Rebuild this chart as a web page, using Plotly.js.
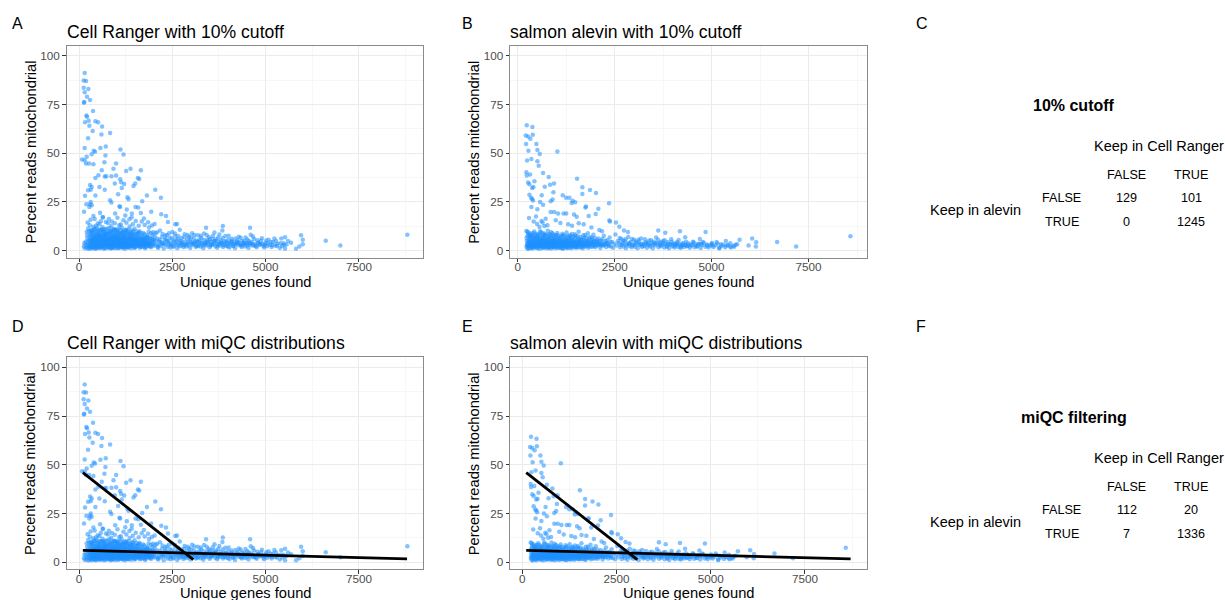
<!DOCTYPE html>
<html>
<head>
<meta charset="utf-8">
<script src="https://cdn.plot.ly/plotly-3.0.1.min.js"></script>
<style>html,body{margin:0;padding:0;background:#fff;}#chart{width:1225px;height:600px;}</style>
</head>
<body>
<div id="chart"></div>
<script>
// ---------------- DATA ----------------
// Cell Ranger: [unique genes found, percent reads mitochondrial]
const crPoints = [
[152,91.1],[125,87.2],[188,87],[125,83.6],[251,82.9],[152,81.2],[215,78.9],[140,76.2],[130,75.8],[296,77.2],
[376,71.6],[197,69.3],[215,68.7],[161,65.8],[260,66.6],[439,66.4],[511,65.8],[278,64],[618,63.7],[367,61.3],
[833,60.4],[600,59.6],[242,57.7],[152,52.7],[1111,51.9],[717,53.4],[573,52.6],[1192,49.3],[394,51.2],[340,49.5],
[430,50.7],[81,46.7],[152,46.4],[206,48.1],[269,44.7],[188,44.7],[385,44.3],[681,45.4],[708,48.8],[923,42],
[994,44.7],[1380,42],[1263,40.8],[1657,41.3],[609,41.3],[520,38.7],[690,38],[730,38.1],[439,37.3],[869,38.2],
[994,38.5],[1129,35.1],[1102,36.6],[1577,37.3],[1612,36.8],[959,34.4],[1210,34.2],[1147,32.2],[1460,33.2],[1505,34.4],
[547,32.7],[690,31.3],[340,32.7],[314,31.3],[296,33.7],[1048,28.9],[242,31],[161,28.1],[439,28.3],[1819,28.3],
[2043,31.2],[2195,27.2],[833,25.9],[869,24.7],[1299,27.4],[1326,26.4],[314,25],[296,23.8],[340,23.3],[278,22.4],
[1102,22.4],[1514,22.4],[1586,22.1],[1693,25.3],[1416,19],[197,23.8],[134,19.9],[1935,19.9],[2204,18.7],[2330,17.8],
[1281,21.1],[968,19],[1084,22.8],[1657,19.3],[2025,13.7],[2383,14.7],[2580,13.5],[2625,13.7],[3405,11.8],[3853,12.7],
[3841,10.4],[4583,11.8],[4601,8.2],[5521,6.9],[5950,7.9],[5995,5.6],[5995,3.3],[5904,2.1],[5816,1.0],[5682,4.1],
[5521,1.0],[5480,3.8],[6611,5.1],[7003,2.6],[8798,8.2],[5235,6.3],[5400,3.8],
[230,14.4],[310,15.8],[420,16.3],[500,13.9],[585,15.1],[640,17.0],[720,14.7],[800,16.2],[880,15.0],[960,14.1],
[1030,16.9],[1120,13.4],[1190,15.6],[1270,14.3],[1350,16.1],[1440,13.6],[1520,15.2],[1600,12.8],[1680,14.9],[1760,13.2],
[1850,14.6],[1950,12.9],[385,17.8],[564,19.5],[636,17.3],[290,13.1],[455,12.7],[1240,18.0],[1410,17.2],[1740,16.5],
[130,2.1],[145,3.8],[160,1.2],[175,4.6],[190,2.8],[205,9.6],[210,1.5],[225,6.2],[235,3.1],[245,11.4],
[255,0.9],[260,5.4],[270,2.3],[280,8.1],[290,3.9],[300,1.4],[305,6.8],[315,10.2],[320,2.6],[330,4.4],
[340,7.5],[345,1.1],[355,3.3],[360,5.9],[370,9.1],[375,2.0],[385,12.3],[390,4.8],[400,1.6],[405,7.0],
[415,3.5],[420,5.2],[430,10.8],[435,2.4],[445,6.5],[450,1.0],[460,8.6],[465,3.9],[475,4.9],[480,11.6],
[490,2.2],[495,6.1],[505,1.4],[510,9.4],[520,3.6],[525,7.8],[535,5.0],[540,2.7],[550,13.5],[555,4.2],
[565,1.2],[570,8.9],[580,6.4],[585,3.0],[595,10.6],[600,5.5],[610,1.8],[615,7.2],[625,3.8],[630,12.0],
[640,4.6],[645,2.1],[655,9.8],[660,6.0],[670,1.5],[675,3.4],[685,8.2],[690,5.1],[700,2.6],[705,11.1],
[715,4.0],[720,7.4],[730,1.3],[735,6.7],[745,3.2],[750,9.0],[760,5.6],[765,2.0],[775,14.2],[780,4.4],
[790,7.9],[795,1.7],[805,3.6],[810,10.1],[820,5.8],[825,2.5],[835,8.4],[840,4.1],[850,1.1],[855,6.3],
[865,12.6],[870,3.0],[880,7.0],[885,5.0],[895,2.3],[900,9.3],[910,4.7],[915,1.6],[925,6.9],[930,3.5],
[940,11.0],[945,5.3],[955,2.0],[960,8.0],[970,4.2],[975,1.2],[985,6.6],[990,3.1],[1000,10.4],[1010,5.7],
[1015,2.6],[1025,7.6],[1030,4.0],[1040,1.5],[1045,9.2],[1055,3.4],[1060,6.1],[1070,2.2],[1080,13.0],[1085,4.9],
[1095,7.3],[1100,1.8],[1110,3.8],[1120,5.5],[1125,8.8],[1135,2.5],[1140,4.5],[1150,11.7],[1160,6.2],[1165,1.4],
[1175,3.3],[1185,7.7],[1190,5.0],[1200,2.1],[1210,9.5],[1220,4.3],[1230,1.0],[1240,6.8],[1250,3.0],[1260,10.6],
[1270,5.2],[1280,2.4],[1290,7.1],[1300,4.1],[1310,1.6],[1320,8.3],[1330,3.6],[1345,5.9],[1355,12.4],[1365,2.8],
[1375,6.5],[1390,4.4],[1400,1.3],[1410,9.0],[1425,3.2],[1435,5.6],[1450,7.6],[1460,2.3],[1475,4.8],[1490,11.3],
[1500,6.0],[1515,1.9],[1530,3.7],[1545,8.5],[1555,5.1],[1570,2.6],[1585,6.9],[1600,4.0],[1615,10.0],[1630,1.5],
[1645,5.4],[1660,3.1],[1675,7.4],[1690,4.6],[1705,2.0],[1720,9.1],[1740,5.8],[1755,3.5],[1770,1.2],[1790,6.6],
[1805,4.2],[1820,8.0],[1840,2.7],[1855,5.0],[1875,11.9],[1890,3.9],[1910,6.3],[1930,1.7],[1950,4.5],[1970,7.8],
[1990,3.0],[2010,5.6],
[320,4.9],[350,2.2],[380,6.0],[410,3.0],[440,4.3],[470,1.9],[500,5.3],[530,2.9],[560,6.9],[590,4.1],
[620,2.4],[650,5.0],[680,3.7],[710,6.3],[740,2.8],[770,4.9],[800,6.0],[830,3.3],[860,1.9],[890,5.8],
[920,2.9],[950,4.6],[980,7.3],[1005,3.7],[1035,5.2],[1065,2.9],[1090,6.0],[1115,4.4],[1145,2.0],[1170,5.3],
[1195,3.4],[1225,7.0],[1255,4.8],[1285,2.9],[1315,5.7],[1340,3.9],[1370,6.4],[1395,2.4],[1430,5.0],[1465,3.6],
[1495,2.0],[1525,5.2],[1560,3.4],[1590,4.4],[1620,2.6],[1650,6.0],[1685,3.2],[1715,5.1],[1750,2.2],[1780,4.0],
[1815,3.0],[1850,6.7],[360,3.8],[395,8.2],[425,2.8],[455,6.9],[485,3.3],[515,4.5],[545,7.6],[575,2.0],
[605,3.9],[635,6.1],[665,4.4],[695,7.5],[725,3.0],[755,5.2],[785,2.4],[815,4.3],[845,7.2],[875,2.0],
[905,3.8],[935,5.6],[965,2.6],[995,4.8],[1020,3.1],[1050,6.4],[1075,4.0],[1105,2.7],[1130,5.9],[1155,3.6],
[1180,2.0],[1205,4.7],[1235,3.1],[1265,5.5],[1295,1.8],[1325,4.6],[1360,2.6],[1385,7.9],[1415,4.0],[1445,2.9],
[1480,6.2],[1510,3.5],[1540,5.7],[1575,4.1],[1605,2.3],[1640,3.8],[1670,5.6],[1700,3.6],[1735,4.5],[1765,6.2],
[1800,2.8],[1835,4.7],[1870,3.3],[1900,2.2],[1940,3.6],[1980,5.3],[2020,2.5],
[215,7.8],[240,4.2],[265,9.9],[285,1.9],[310,3.8],[325,8.7],[335,5.6],[350,10.6],[365,1.8],[380,4.0],
[398,6.3],[412,9.6],[428,1.3],[442,5.7],[458,3.0],[472,7.3],[488,10.0],[502,2.9],[518,6.1],[532,8.3],
[548,1.7],[562,4.8],[578,10.9],[592,2.3],[608,5.9],[622,9.0],[638,3.1],[652,7.0],[668,1.0],[682,10.4],
[698,4.1],[712,8.6],[728,2.2],[742,5.4],[758,11.3],[772,3.5],[788,6.1],[802,9.4],[818,1.5],[832,5.1],
[848,10.0],[862,3.9],[878,8.8],[892,1.4],[908,6.3],[922,10.9],[938,4.1],[952,7.1],[968,2.5],[982,9.2],
[998,5.0],[1012,3.0],[1028,10.1],[1042,6.6],[1058,1.3],[1072,8.2],[1088,3.9],[1102,10.6],[1118,2.6],[1132,6.7],
[1148,9.1],[1162,3.0],[1178,5.5],[1192,10.2],[1208,1.9],[1222,7.9],[1238,4.2],[1252,8.9],[1268,2.0],[1282,6.3],
[1298,9.9],[1312,3.4],[1328,7.0],[1342,1.7],[1358,4.5],[1372,8.6],[1388,3.1],[1402,6.0],[1418,10.3],[1432,2.4],
[1448,5.2],[1462,8.0],[1478,3.3],[1492,1.4],[1508,7.0],[1522,4.2],[1538,9.8],[1552,2.8],[1568,5.6],[1582,8.4],
[1598,3.2],[1612,6.8],[1628,4.6],[1642,9.3],[1658,2.0],[1672,5.2],[1688,7.7],[1702,3.6],[1718,6.0],[1732,2.6],
[1748,8.6],[1762,4.4],[1778,6.8],[1792,1.8],[1808,5.5],[1822,3.3],[1838,7.3],[1852,4.0],[1868,9.7],[1882,2.4],
[1898,6.1],[1912,4.0],[1928,8.9],[1945,2.7],[1962,5.9],[1985,9.5],[2002,4.1],
[300,5.5],[330,9.7],[370,6.9],[400,11.0],[430,4.6],[465,8.0],[500,7.0],[530,10.5],[565,6.5],[600,8.2],
[640,10.9],[670,7.6],[705,9.2],[740,6.4],[780,8.6],[815,11.8],[850,6.9],[890,10.3],[930,8.3],[970,10.8],
[1010,8.6],[1050,11.2],[1090,9.0],[1130,7.5],[1170,9.6],[1210,6.9],[1250,10.7],[1290,8.8],[1330,10.8],[1370,9.3],
[1410,6.8],[1450,10.0],[1490,8.6],[1540,6.6],[1590,9.1],
[2050,8.9],[2080,3.2],[2100,6.1],[2120,1.4],[2150,4.6],[2170,10.3],[2200,2.5],[2220,7.0],[2250,4.0],[2270,1.1],
[2300,5.5],[2330,3.0],[2350,8.1],[2380,2.0],[2400,4.9],[2430,6.8],[2450,1.6],[2480,3.8],[2500,9.6],[2530,5.2],
[2550,2.4],[2580,7.4],[2600,3.6],[2630,1.2],[2650,5.9],[2680,4.2],[2700,10.7],[2730,2.7],[2750,6.5],[2780,3.3],
[2800,1.7],[2830,8.4],[2850,4.6],[2880,2.2],[2900,5.8],[2930,3.9],[2950,7.2],[2980,1.4],[3000,4.4],[3030,9.0],
[3050,2.9],[3080,6.1],[3100,3.5],[3130,1.9],[3150,5.0],[3180,7.9],[3200,3.0],[3230,4.7],[3250,2.1],[3280,6.6],
[3300,3.7],[3330,1.3],[3350,8.8],[3380,4.2],[3400,2.6],[3430,5.6],[3450,3.2],[3480,7.0],[3500,1.8],[3530,4.5],
[3550,2.9],[3580,6.0],[3600,3.6],[3630,9.3],[3650,2.3],[3680,4.9],[3700,1.5],[3730,6.8],[3750,3.4],[3780,2.7],
[3800,5.3],[3830,3.9],[3860,1.9],[3890,4.6],[3920,7.5],[3950,2.4],[3980,3.7],[4000,5.6],[4030,1.6],[4060,3.2],
[4090,6.1],[4120,2.5],[4150,4.3],[4180,1.2],[4210,3.6],[4240,5.2],[4270,2.8],[4300,4.0],[4330,6.6],[4360,1.9],
[4390,3.1],[4420,4.8],[4450,2.2],[4480,3.8],[4510,5.7],[4540,1.4],[4570,3.0],[4620,4.5],[4650,2.6],[4690,6.0],
[4720,3.4],[4760,1.8],[4800,4.2],[4840,2.9],[4880,5.1],[4920,3.5],[4960,1.6],[5000,4.0],[5040,2.3],[5080,5.6],
[5120,3.0],[5160,1.9],[5200,4.4],[5260,2.7],[5320,3.6],[5380,1.4],[5440,2.4],[5560,3.2],[5600,5.0],
[2060,5.0],[2140,2.6],[2230,3.5],[2310,7.6],[2390,4.1],[2470,2.8],[2560,4.4],[2640,3.1],[2720,5.1],[2810,2.6],
[2890,3.4],[2970,5.2],[3060,4.0],[3140,2.5],[3220,5.6],[3310,2.6],[3390,3.8],[3470,4.8],[3560,3.3],[3640,5.0],
[3720,2.6],[3810,4.0],[3900,3.0],[3990,2.2],[4080,4.4],[4170,3.3],[4260,4.5],[4350,2.6],[4440,3.6],[4530,4.0],
[4640,3.6],[4740,2.4],[4860,3.3],[4980,2.9],
[2030,7.2],[2090,9.5],[2160,5.6],[2240,8.6],[2320,6.0],[2410,9.0],[2490,6.2],[2570,8.8],[2660,7.5],[2740,4.0],
[2820,6.9],[2910,8.0],[3000,6.7],[3090,8.1],[3170,4.3],[3260,7.6],[3340,5.5],[3420,8.0],[3510,6.0],[3590,7.7],
[3670,5.9],[3760,8.3],[3850,6.5],[3930,5.0],[4010,7.6],[4100,4.9],[4190,6.3],[4280,7.1],[4370,5.1],[4460,6.8],
[4550,5.0],[4660,7.3],[4780,5.4],[4900,6.4],[5020,5.2],[5140,4.4],[5280,5.0],[5420,6.2],[2110,2.0],[2190,4.5],
[2280,3.4],[2360,5.0],[2440,3.0],[2520,2.0],[2610,5.3],[2690,2.3],[2770,4.5],[2860,3.1],[2940,2.6],[3020,3.4],
[3110,4.6],[3190,2.4],[3270,4.0],[3360,3.0],[3440,4.3],[3520,2.6],[3610,4.6],[3690,3.3],[3770,4.3],[3870,2.8],
[3960,4.2],[4050,3.9],[4140,2.4],[4230,4.1],[4320,3.0],[4410,4.0],[4500,2.7],[4590,3.7],[4700,2.7],[4820,3.8],
[4940,2.5],[5060,3.5],[5180,2.8],[5300,2.4],[5500,2.9]
];

// salmon alevin: [unique genes found, percent reads mitochondrial]
const alPoints = [
[232,64.3],[378,63.4],[206,59.1],[387,59.5],[266,58.6],[326,57.4],[215,54.7],[481,54.7],[507,51.6],[275,51.3],
[1022,50.8],[567,49.6],[352,47],[241,46.2],[507,45.8],[541,43.6],[223,40.2],[232,38.6],[653,39.8],[318,39.1],
[799,37.8],[1529,36.9],[266,34.9],[301,34],[430,35.6],[696,32.8],[833,33.8],[936,34.4],[370,32.2],[404,32.6],
[1666,32.5],[1864,31.1],[2019,29.6],[1666,29.1],[919,29.9],[618,28.4],[301,28.7],[370,26.5],[395,25.7],[345,27.1],
[575,25],[653,23.6],[900,26.3],[850,25.3],[1160,28.4],[1246,27.2],[1332,27.2],[1417,25.6],[1390,24.5],[1480,24.8],
[2354,24.3],[1760,22.6],[1745,22.1],[2079,21.5],[507,21.2],[352,22.4],[850,19.8],[940,19.8],[1039,19.1],[1180,19.1],
[1250,19.1],[1452,18.5],[1830,17.8],[2010,18.8],[1520,17.4],[2362,15.5],[2380,14.9],[2534,14.4],[1572,14],[2620,12.3],
[2740,10.4],[2843,9.6],[2104,10.6],[2173,9.9],[3625,10.3],[3805,9.2],[223,10.1],[498,13.7],[687,12.6],[764,13],
[4183,9.9],[4845,9.6],[4319,6.9],[4698,6],[5368,5],[5721,5.6],[6046,6.2],[6149,4.3],[6140,2.1],[5953,2.6],
[6690,4.5],[7180,2.1],[8581,7.4],[5659,3.3],[5471,2.1],[5195,1.2],[5010,4],
[290,16.8],[470,17.5],[610,15.2],[720,16.4],[980,15.6],[1100,14.2],[1300,13.5],[640,14.4],[1400,12.8],[1700,13.6],
[1900,11.9],[560,12.1],[410,14.9],
[225,2.2],[235,5.1],[245,1.3],[255,7.4],[265,3.3],[275,0.9],[285,4.6],[295,9.2],[305,2.5],[315,6.0],
[325,1.6],[335,3.9],[345,8.3],[355,2.9],[365,5.4],[375,1.1],[385,7.0],[395,3.5],[405,4.8],[415,2.0],
[425,9.8],[435,5.9],[445,1.5],[455,3.1],[465,6.6],[475,2.6],[485,4.2],[495,8.0],[505,1.2],[515,5.6],
[525,3.4],[535,7.2],[545,2.1],[555,4.5],[565,1.0],[575,6.2],[585,3.0],[595,9.5],[605,4.9],[615,2.3],
[625,5.8],[635,1.4],[645,7.8],[655,3.7],[665,2.6],[675,5.2],[685,1.8],[695,8.7],[705,4.1],[715,2.9],
[725,6.5],[735,1.3],[745,3.8],[755,5.5],[765,2.2],[775,10.2],[785,4.4],[795,1.7],[805,6.8],[815,3.2],
[825,2.0],[835,5.0],[845,7.5],[855,3.6],[865,1.1],[875,4.7],[885,2.7],[895,8.9],[905,5.3],[915,1.9],
[925,3.9],[935,6.1],[945,2.5],[955,4.3],[965,1.2],[975,7.1],[985,3.3],[995,5.7],[1010,2.1],[1020,9.1],
[1035,4.6],[1045,1.6],[1060,3.5],[1070,6.3],[1085,2.8],[1095,5.0],[1110,1.4],[1120,7.7],[1135,3.9],[1145,2.3],
[1160,5.5],[1170,1.0],[1185,4.2],[1195,8.1],[1210,2.7],[1225,6.0],[1235,3.4],[1250,1.8],[1260,5.2],[1275,2.5],
[1290,7.3],[1300,4.0],[1315,1.5],[1330,3.2],[1340,6.4],[1355,2.2],[1370,4.8],[1385,1.3],[1395,8.6],[1410,3.6],
[1425,5.4],[1440,2.4],[1455,4.1],[1470,1.7],[1485,6.7],[1500,3.1],[1515,2.0],[1530,5.1],[1545,7.4],[1560,2.9],
[1580,4.5],[1595,1.6],[1610,3.6],[1630,6.0],[1645,2.5],[1665,4.3],[1680,1.2],[1700,5.6],[1720,3.0],[1740,8.0],
[1760,2.2],[1780,4.6],[1800,3.4],[1820,1.5],[1840,5.8],[1860,2.8],[1885,4.0],[1905,6.8],[1930,2.0],[1950,3.6],
[1975,5.0],[2000,1.8],[2025,4.4],[2050,2.7],[2080,6.2],[2105,3.5],[2130,1.4],[2160,4.9],[2190,2.6],[2220,7.6],
[2250,3.8],[2280,1.9],[2310,5.3],[2340,3.0],[2370,6.7],[2400,2.2],[2430,4.5],[2460,1.5],[2490,3.6],[2520,8.3],
[2550,2.6],[2580,5.0],
[240,3.6],[270,2.4],[300,4.1],[330,6.9],[360,3.0],[390,2.3],[420,5.2],[450,4.0],[480,2.9],[510,3.8],
[540,5.0],[570,2.6],[600,4.0],[630,3.2],[660,6.0],[690,2.9],[720,4.5],[750,3.1],[780,5.8],[810,2.6],
[840,4.1],[870,3.0],[900,5.9],[930,2.4],[960,4.0],[990,3.0],[1025,5.3],[1055,2.6],[1090,4.1],[1125,3.0],
[1155,4.6],[1190,2.5],[1220,3.7],[1255,4.5],[1285,3.0],[1320,5.0],[1350,3.7],[1380,2.6],[1420,4.0],[1450,3.0],
[1490,4.6],[1525,2.6],[1565,3.9],[1600,5.1],[1640,3.3],[1675,2.6],[1710,4.2],[1750,3.3],[1790,5.0],[1830,2.9],
[1870,3.8],[1920,4.7],[1960,2.9],[2010,3.6],[2060,4.5],[2120,3.0],[2170,3.7],[2230,2.8],[2290,4.0],[2350,2.4],
[250,9.7],[310,8.0],[380,9.0],[440,7.6],[520,8.5],[580,10.0],[650,9.0],[710,7.9],[790,8.4],[860,9.5],
[940,8.2],[1040,7.8],[1150,8.7],[1260,9.3],[1360,7.6],[1470,8.4],[1570,9.7],[1690,7.9],[1810,9.0],[1950,8.2],
[228,6.5],[248,2.8],[262,8.6],[278,5.0],[292,1.7],[308,7.2],[322,3.6],[338,5.3],[352,1.5],[368,7.7],
[382,4.4],[398,2.2],[412,6.3],[428,3.7],[442,8.8],[458,2.0],[472,5.2],[488,7.0],[502,3.3],[518,1.8],
[532,6.0],[548,4.0],[562,8.0],[578,2.5],[592,5.3],[608,3.0],[622,7.3],[638,4.4],[652,1.6],[668,6.8],
[682,3.5],[698,5.0],[712,2.0],[728,8.1],[742,4.6],[758,2.9],[772,6.2],[788,3.6],[802,1.3],[818,5.6],
[832,8.2],[848,2.5],[862,4.8],[878,6.8],[892,1.9],[908,3.9],[922,7.4],[938,4.8],[952,2.0],[968,5.4],
[982,3.7],[998,8.0],[1012,4.0],[1028,1.5],[1042,6.5],[1058,3.5],[1072,4.9],[1088,1.8],[1102,6.8],[1118,3.5],
[1132,5.5],[1148,1.4],[1162,7.5],[1178,3.0],[1192,5.7],[1208,4.3],[1222,1.6],[1238,7.0],[1252,3.3],[1268,5.0],
[1282,1.4],[1298,6.0],[1312,3.5],[1328,7.8],[1342,2.6],[1358,5.5],[1372,3.4],[1388,6.4],[1402,1.9],[1418,4.6],
[1432,7.1],[1448,2.7],[1462,5.2],[1478,3.3],[1492,7.6],[1508,1.5],[1522,4.5],[1538,3.0],[1552,6.0],[1568,2.0],
[1582,5.5],[1598,3.3],[1615,7.0],[1635,4.2],[1655,1.7],[1672,5.5],[1692,3.3],[1712,6.6],[1732,2.3],[1752,4.6],
[1772,6.6],[1795,2.4],[1815,4.9],[1835,3.5],[1855,6.9],[1878,2.0],[1898,4.6],[1922,5.8],[1945,2.6],[1968,4.5],
[1990,6.5],[2015,2.6],[2045,5.4],[2075,3.2],[2110,4.9],[2145,2.7],[2180,6.0],[2215,3.2],[2265,5.1],[2320,3.5],
[2390,4.5],
[2610,4.1],[2640,1.7],[2670,6.0],[2700,3.0],[2730,2.1],[2760,4.8],[2790,1.3],[2820,3.6],[2850,7.0],[2880,2.4],
[2910,4.4],[2940,1.8],[2970,3.2],[3000,5.6],[3030,2.0],[3060,3.9],[3090,1.2],[3120,4.7],[3150,2.8],[3180,6.3],
[3210,1.9],[3240,3.5],[3270,2.4],[3300,4.3],[3330,1.5],[3360,3.0],[3390,5.2],[3420,2.1],[3450,3.8],[3480,1.3],
[3510,4.6],[3540,2.6],[3570,6.8],[3600,3.3],[3630,1.8],[3660,4.0],[3690,2.3],[3720,3.1],[3750,5.0],[3780,1.6],
[3810,3.5],[3840,2.5],[3870,4.4],[3900,1.2],[3930,3.0],[3960,5.8],[3990,2.2],[4020,3.7],[4050,1.6],[4080,2.8],
[4110,4.5],[4140,2.0],[4170,3.3],[4200,1.4],[4230,2.6],[4260,4.0],[4290,1.9],[4330,3.0],[4360,2.3],[4400,3.8],
[4440,1.5],[4480,2.7],[4520,4.6],[4560,1.8],[4600,3.1],[4640,2.2],[4680,3.6],[4720,1.4],[4760,2.9],[4800,4.1],
[4840,2.0],[4880,3.2],[4920,1.6],[4960,2.6],[5000,3.4],[5050,1.9],[5100,2.8],[5150,3.7],[5200,1.4],[5250,2.4],
[5300,3.1],[5350,1.7],[5420,2.9],[5500,1.6],[5560,2.5],[5620,3.0],
[2650,3.0],[2720,5.2],[2800,2.8],[2880,4.0],[2960,2.6],[3040,4.6],[3130,3.3],[3220,2.6],[3310,3.6],[3400,2.8],
[3490,3.2],[3580,4.1],[3670,2.9],[3760,3.6],[3850,2.0],[3940,3.3],[4030,2.5],[4120,3.4],[4210,2.0],[4300,2.9],
[4390,2.4],[4500,3.2],[4610,2.3],[4730,3.4],
[2630,6.5],[2710,4.0],[2780,5.9],[2870,3.3],[2950,6.0],[3020,3.0],[3110,5.6],[3190,3.6],[3280,5.8],[3350,4.1],
[3440,5.4],[3530,3.7],[3620,5.6],[3700,4.4],[3790,5.3],[3880,3.4],[3970,4.5],[4060,3.5],[4150,5.5],[4240,3.3],
[4340,4.6],[4430,3.0],[4540,4.2],[4650,3.4],[4770,4.5],[4890,2.6],[5020,2.6],[5130,4.5],[5240,3.3],[5380,2.7],
[5480,3.8],[5580,2.0]
];

// miQC fitted lines (endpoints)
const crFit1X = [104, 3063], crFit1Y = [46.0, 1.4];
const crFit2X = [104, 8790], crFit2Y = [6.1, 1.7];
const alFit1X = [104, 3050], alFit1Y = [46.0, 1.4];
const alFit2X = [104, 8710], alFit2Y = [6.1, 1.7];

// panel titles & axis labels
const panelTitles = ["Cell Ranger with 10% cutoff", "salmon alevin with 10% cutoff",
                     "Cell Ranger with miQC distributions", "salmon alevin with miQC distributions"];
const panelLetters = ["A", "B", "C", "D", "E", "F"];
const xLabel = "Unique genes found";
const yLabel = "Percent reads mitochondrial";
const xTicks = [0, 2500, 5000, 7500];
const yTicks = [0, 25, 50, 75, 100];

// contingency tables
const tableTitles = ["10% cutoff", "miQC filtering"];
const colHeader = "Keep in Cell Ranger";
const rowHeader = "Keep in alevin";
const levels = ["FALSE", "TRUE"];
const cutoffTable = [[129, 101], [0, 1245]];
const miqcTable = [[112, 20], [7, 1336]];

// ---------------- STYLE / LAYOUT ----------------
const W = 1225, H = 600;
const FONT = "Liberation Sans, Arial, Helvetica, sans-serif";
const px = v => v / W;
const py = v => 1 - v / H;

const ptColor = "rgba(30,144,255,0.55)";
function scatter(points, xa, ya) {
  return {type: "scatter", mode: "markers", x: points.map(p => p[0]), y: points.map(p => p[1]),
    xaxis: xa, yaxis: ya, marker: {size: 4.5, color: ptColor, line: {width: 0}}, hoverinfo: "x+y"};
}
function fitLine(xs, ys, xa, ya) {
  return {type: "scatter", mode: "lines", x: xs, y: ys, xaxis: xa, yaxis: ya,
    line: {color: "#000", width: 2.8}, hoverinfo: "skip"};
}

const traces = [
  scatter(crPoints, "x", "y"),
  scatter(alPoints, "x2", "y2"),
  scatter(crPoints, "x3", "y3"),
  scatter(alPoints, "x4", "y4"),
  fitLine(crFit1X, crFit1Y, "x3", "y3"),
  fitLine(crFit2X, crFit2Y, "x3", "y3"),
  fitLine(alFit1X, alFit1Y, "x4", "y4"),
  fitLine(alFit2X, alFit2Y, "x4", "y4")
];

// plot-area pixel boxes [left, right, top, bottom]
const boxes = [
  [66.7, 423.3, 45.7, 257.7],
  [510, 866.7, 45.7, 257.7],
  [66.7, 423.3, 357.3, 569.3],
  [510, 866.7, 357.3, 569.3]
];
const xRanges = [[-330, 9225], [-200, 9000], [-330, 9225], [-326, 9137]];
const yRange = [-3.6, 105.1];

function axisBase() {
  return {
    showgrid: true, gridcolor: "#EBEBEB", gridwidth: 1,
    zeroline: false, showline: true, mirror: true, linecolor: "#8a8a8a", linewidth: 1,
    ticks: "outside", ticklen: 3.5, tickwidth: 1, tickcolor: "#333333",
    tickfont: {family: FONT, size: 11.7, color: "#4D4D4D"},
    fixedrange: true
  };
}

const layout = {
  width: W, height: H, margin: {l: 0, r: 0, t: 0, b: 0},
  paper_bgcolor: "#fff", plot_bgcolor: "#fff", showlegend: false,
  font: {family: FONT, color: "#000"},
  annotations: []
};

boxes.forEach((b, i) => {
  const n = i === 0 ? "" : String(i + 1);
  const xa = axisBase(), ya = axisBase();
  Object.assign(xa, {domain: [px(b[0]), px(b[1])], range: xRanges[i], tickvals: xTicks,
    ticktext: xTicks.map(String), anchor: "y" + n, ticklabelstandoff: -5,
    minor: {tickvals: [1250, 3750, 6250, 8750], showgrid: true, gridcolor: "#F3F3F3", gridwidth: 0.7, ticks: ""}});
  Object.assign(ya, {domain: [py(b[3]), py(b[2])], range: yRange, tickvals: yTicks,
    ticktext: yTicks.map(String), anchor: "x" + n,
    minor: {tickvals: [12.5, 37.5, 62.5, 87.5], showgrid: true, gridcolor: "#F3F3F3", gridwidth: 0.7, ticks: ""}});
  layout["xaxis" + n] = xa;
  layout["yaxis" + n] = ya;

  // panel title
  layout.annotations.push({text: panelTitles[i], xref: "paper", yref: "paper",
    x: px(b[0] - 2), y: py(b[2] - 14), xanchor: "left", yanchor: "middle", showarrow: false,
    font: {family: FONT, size: 17.6, color: "#000"}});
  // x axis title
  layout.annotations.push({text: xLabel, xref: "paper", yref: "paper",
    x: px((b[0] + b[1]) / 2), y: py(b[3] + 23.8), xanchor: "center", yanchor: "middle", showarrow: false,
    font: {family: FONT, size: 14.7, color: "#000"}});
  // y axis title
  layout.annotations.push({text: yLabel, xref: "paper", yref: "paper", textangle: -90,
    x: px(b[0] - 36), y: py((b[2] + b[3]) / 2), xanchor: "center", yanchor: "middle", showarrow: false,
    font: {family: FONT, size: 14.7, color: "#000"}});
});

// panel letters
const letterPos = [[10, 23.3], [459.5, 23.3], [914, 23.3], [10, 326.5], [459.5, 326.5], [914, 326.5]];
panelLetters.forEach((t, i) => {
  layout.annotations.push({text: t, xref: "paper", yref: "paper", x: px(letterPos[i][0]), y: py(letterPos[i][1]),
    xanchor: "left", yanchor: "middle", showarrow: false, font: {family: FONT, size: 16, color: "#000"}});
});

// contingency tables
function addTable(title, table, top) {
  const A = (t, x, y, opts) => layout.annotations.push(Object.assign({text: t, xref: "paper", yref: "paper",
    x: px(x), y: py(y), xanchor: "center", yanchor: "middle", showarrow: false,
    font: {family: FONT, size: 12.6, color: "#000"}}, opts || {}));
  A("<b>" + title + "</b>", 1073.5, top, {font: {family: FONT, size: 16, color: "#000"}});
  A(colHeader, 1091.5, top + 40.5, {xanchor: "left", font: {family: FONT, size: 14.5, color: "#000"}});
  const colX = [1126.7, 1191], rowY = [top + 92.8, top + 116.1];
  A(levels[0], colX[0], top + 69.5);
  A(levels[1], colX[1], top + 69.5);
  A(rowHeader, 975.5, top + 104.5, {font: {family: FONT, size: 14.5, color: "#000"}});
  levels.forEach((lv, r) => {
    A(lv, 1061.7, rowY[r]);
    table[r].forEach((v, c) => A(String(v), colX[c], rowY[r]));
  });
}
addTable(tableTitles[0], cutoffTable, 105.5);
addTable(tableTitles[1], miqcTable, 417.5);

Plotly.newPlot("chart", traces, layout, {displayModeBar: false, staticPlot: true});
</script>
</body>
</html>
